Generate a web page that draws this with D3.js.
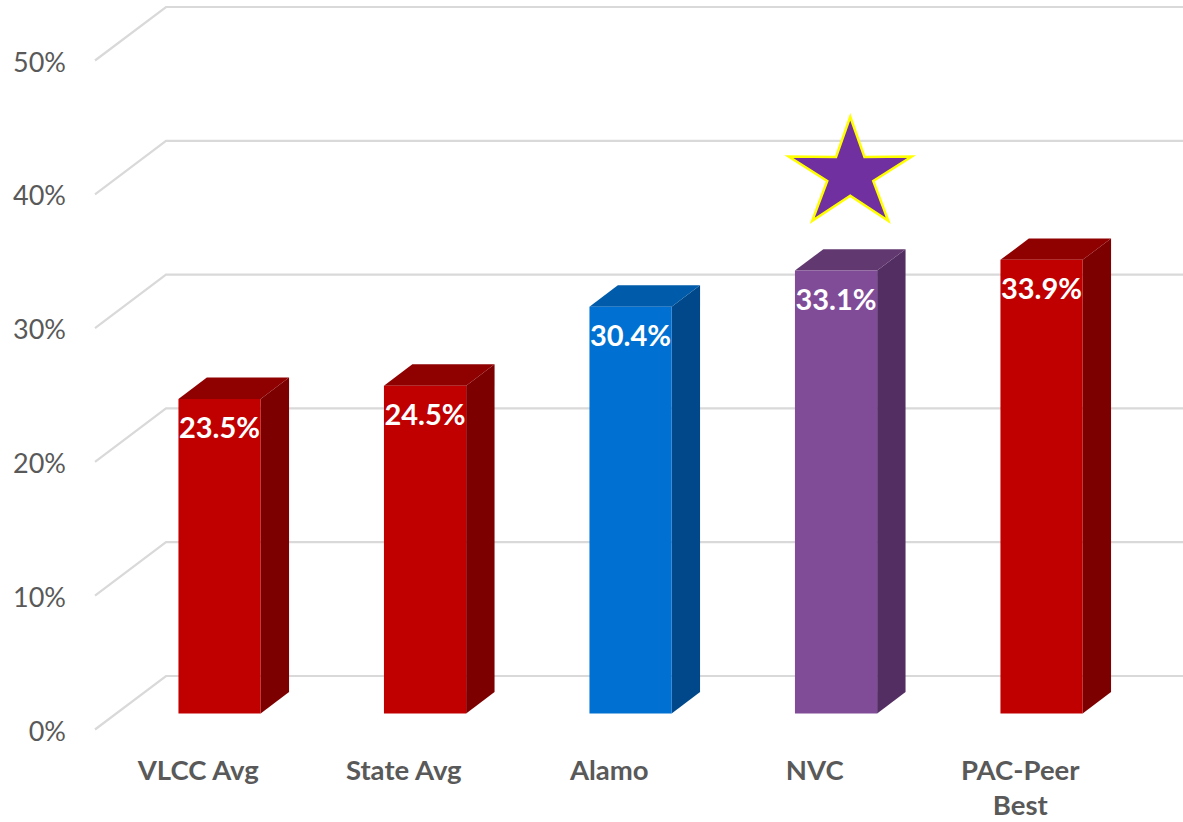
<!DOCTYPE html>
<html><head><meta charset="utf-8">
<script src="https://cdn.jsdelivr.net/npm/d3@7"></script>
<style>html,body{margin:0;padding:0;background:#fff;} svg{display:block;}</style>
</head><body>
<svg id="chart" width="1183" height="822"></svg>
<script>
// ---- data ----
const categories = ["VLCC Avg", "State Avg", "Alamo", "NVC", "PAC-Peer Best"];
const categoryLines = [["VLCC Avg"], ["State Avg"], ["Alamo"], ["NVC"], ["PAC-Peer", "Best"]];
const values = [0.235, 0.245, 0.304, 0.331, 0.339];
const valueLabels = ["23.5%", "24.5%", "30.4%", "33.1%", "33.9%"];
const barColorKeys = ["red", "red", "blue", "purple", "red"];
const yTicks = [0, 0.1, 0.2, 0.3, 0.4, 0.5];
const yTickLabels = ["0%", "10%", "20%", "30%", "40%", "50%"];
const starCategory = "NVC";

// ---- styles ----
const palette = {
  red:    {front: "#C00000", top: "#8F0000", side: "#7C0000"},
  blue:   {front: "#0071D2", top: "#005BAA", side: "#00488A"},
  purple: {front: "#804C98", top: "#61386F", side: "#532E62"}
};
const FONT = "Lato, 'Open Sans', sans-serif";
const DX = 71, DY = 53.5;          // full floor depth projection
const Z0 = 0.3, Z1 = 0.7;          // bar depth range

const svg = d3.select("#chart");
const x = d3.scaleBand().domain(categories).range([95.5, 95.5 + 5 * 205.5])
  .paddingInner(0.6).paddingOuter(0.3);
const y = d3.scaleLinear().domain([0, 0.5]).range([729.5, 60.5]);

// gridlines (front diagonal + back wall horizontal)
const grid = svg.append("g");
yTicks.forEach(t => {
  const x0 = x.range()[0] - 0.5;
  grid.append("path")
    .attr("d", `M${x0},${y(t)} L${x0 + DX},${y(t) - DY} L1200,${y(t) - DY}`)
    .attr("fill", "none").attr("stroke", "#D9D9D9").attr("stroke-width", 2.2);
});

// y labels
svg.append("g").selectAll("text").data(yTicks).join("text")
  .attr("x", 66).attr("y", d => y(d) + 11)
  .attr("text-anchor", "end")
  .attr("font-family", FONT).attr("font-size", 27).attr("fill", "#595959")
  .text((d, i) => yTickLabels[i]);

// bars
const bars = svg.append("g");
categories.forEach((c, i) => {
  const p = palette[barColorKeys[i]];
  const xl = x(c), xr = x(c) + x.bandwidth();
  const yb = y(0), yt = y(values[i]);
  const P = (px, py, z) => [px + z * DX, py - z * DY];
  const poly = pts => "M" + pts.map(q => q.join(",")).join("L") + "Z";
  bars.append("path").attr("fill", p.side).attr("d", poly([
    P(xr, yb, Z0), P(xr, yb, Z1), P(xr, yt, Z1), P(xr, yt, Z0)]));
  bars.append("path").attr("fill", p.top).attr("d", poly([
    P(xl, yt, Z0), P(xr, yt, Z0), P(xr, yt, Z1), P(xl, yt, Z1)]));
  bars.append("path").attr("fill", p.front).attr("d", poly([
    P(xl, yb, Z0), P(xr, yb, Z0), P(xr, yt, Z0), P(xl, yt, Z0)]));
  const [fx, fy] = P(xl + x.bandwidth() / 2, yt, Z0);
  bars.append("text").attr("x", fx).attr("y", fy + 39)
    .attr("text-anchor", "middle").attr("font-family", FONT)
    .attr("font-weight", "bold").attr("font-size", 29).attr("fill", "#FFFFFF")
    .text(valueLabels[i]);
});

// category labels
const catG = svg.append("g");
categories.forEach((c, i) => {
  const cx = x(c) + x.bandwidth() / 2;
  const t = catG.append("text").attr("text-anchor", "middle")
    .attr("font-family", FONT).attr("font-weight", "bold")
    .attr("font-size", 27.5).attr("fill", "#595959");
  categoryLines[i].forEach((ln, k) => {
    t.append("tspan").attr("x", cx).attr("y", 780 + k * 35).text(ln);
  });
});

// star above highlighted bar
const si = categories.indexOf(starCategory);
const scx = x(starCategory) + x.bandwidth() / 2 + 0.5 * DX;
const scy = y(values[si]) - 0.5 * DY - 85.6;
const R = 57.5, r = 21.5, sx = 1.125;
const starPts = d3.range(10).map(k => {
  const a = -Math.PI / 2 + k * Math.PI / 5;
  const rad = k % 2 === 0 ? R : r;
  return [scx + Math.cos(a) * rad * sx, scy + Math.sin(a) * rad];
});
svg.append("path").attr("d", "M" + starPts.map(q => q.join(",")).join("L") + "Z")
  .attr("fill", "#7030A0").attr("stroke", "#FFFF00").attr("stroke-width", 2.5)
  .attr("stroke-linejoin", "miter");
</script>
</body></html>
